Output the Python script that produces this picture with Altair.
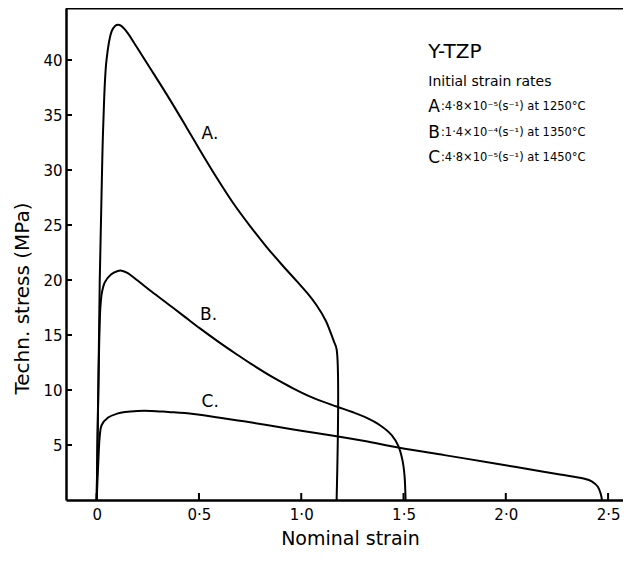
import altair as alt
import pandas as pd

# ---- data ----
strain_A = [0.0, 0.008, 0.015, 0.024, 0.032, 0.048, 0.073, 0.09, 0.105, 0.12, 0.15, 0.195, 0.26, 0.358,
            0.44, 0.505, 0.58, 0.667, 0.75, 0.831, 0.91, 0.978, 1.03, 1.075, 1.12, 1.14, 1.16, 1.173, 1.173]
stress_A = [0.0, 10.0, 20.0, 28.0, 34.0, 40.0, 42.6, 43.1, 43.2, 43.1, 42.5, 41.2, 39.3, 36.4,
            33.85, 31.8, 29.5, 27.0, 24.9, 23.0, 21.3, 19.9, 18.8, 17.7, 16.3, 15.4, 14.4, 13.7, 0.0]

strain_B = [0.0, 0.006, 0.012, 0.018, 0.026, 0.04, 0.07, 0.1, 0.122, 0.15, 0.2, 0.268, 0.35, 0.431,
            0.505, 0.594, 0.68, 0.757, 0.871, 0.95, 1.05, 1.173, 1.25, 1.31, 1.385, 1.442, 1.475,
            1.495, 1.505, 1.51]
stress_B = [0.0, 8.0, 14.0, 17.5, 18.9, 19.8, 20.5, 20.8, 20.85, 20.65, 19.95, 18.95, 17.8, 16.65,
            15.6, 14.4, 13.3, 12.35, 11.05, 10.25, 9.35, 8.5, 8.0, 7.55, 6.8, 5.9, 4.9,
            3.6, 2.2, 0.0]

strain_C = [0.0, 0.008, 0.015, 0.024, 0.056, 0.1, 0.138, 0.2, 0.268, 0.35, 0.431, 0.594, 0.72, 0.839,
            1.0, 1.173, 1.31, 1.48, 1.7, 1.955, 2.1, 2.265, 2.38, 2.42, 2.45, 2.465, 2.47]
stress_C = [0.0, 3.5, 5.8, 6.8, 7.5, 7.85, 8.0, 8.1, 8.1, 8.0, 7.9, 7.5, 7.15, 6.8,
            6.3, 5.8, 5.36, 4.75, 4.08, 3.3, 2.84, 2.31, 1.95, 1.7, 1.2, 0.5, 0.0]

x_ticks = [0, 0.5, 1.0, 1.5, 2.0, 2.5]
y_ticks = [5, 10, 15, 20, 25, 30, 35, 40]

curve_labels = ["A.", "B.", "C."]
curve_label_x = [0.513, 0.505, 0.513]
curve_label_y = [33.3, 16.8, 8.9]

legend_letters = ["A", "B", "C"]
legend_texts = [":4·8×10⁻⁵(s⁻¹) at 1250°C", ":1·4×10⁻⁴(s⁻¹) at 1350°C", ":4·8×10⁻⁵(s⁻¹) at 1450°C"]
legend_y = [35.7, 33.34, 31.06]
legend_x_letter = 1.621
legend_x_text = 1.683

title_text = "Y-TZP"
subtitle_text = "Initial strain rates"

X_DOMAIN = [-0.15, 2.573]
Y_DOMAIN = [0, 44.73]
FONT = "DejaVu Sans"

rows = []
for name, xs_, ys_ in (("A", strain_A, stress_A), ("B", strain_B, stress_B), ("C", strain_C, stress_C)):
    for i, (a, b) in enumerate(zip(xs_, ys_)):
        rows.append({"curve": name, "i": i, "strain": a, "stress": b})
curves = pd.DataFrame(rows)

xs = alt.Scale(domain=X_DOMAIN, nice=False, zero=False)
ys = alt.Scale(domain=Y_DOMAIN, nice=False, zero=False)

x_axis = alt.Axis(values=x_ticks, ticks=False, grid=False, domainWidth=2.5, domainColor="black",
                  labelFont=FONT, labelFontSize=15, labelColor="black", labelPadding=7,
                  labelExpr="datum.value == 0 ? '0' : replace(format(datum.value, '.1f'), '.', '·')",
                  title="Nominal strain", titleFont=FONT, titleFontSize=19, titleFontWeight="normal",
                  titleColor="black", titlePadding=7, titleX=284)
y_axis = alt.Axis(values=y_ticks, ticks=False, grid=False, domainWidth=2.5, domainColor="black",
                  labelFont=FONT, labelFontSize=15, labelColor="black", labelPadding=4,
                  title="Techn. stress (MPa)", titleFont=FONT, titleFontSize=20, titleFontWeight="normal",
                  titleColor="black", titlePadding=10, titleY=290)

lines = alt.Chart(curves).mark_line(color="black", strokeWidth=2, interpolate="catmull-rom").encode(
    x=alt.X("strain:Q", scale=xs, axis=x_axis),
    y=alt.Y("stress:Q", scale=ys, axis=y_axis),
    detail="curve:N",
    order="i:Q",
)

xt = alt.Chart(pd.DataFrame({"v": x_ticks})).mark_rule(color="black", strokeWidth=2).encode(
    x=alt.X("v:Q", scale=xs), y=alt.value(492), y2=alt.value(485))
yt = alt.Chart(pd.DataFrame({"v": y_ticks})).mark_rule(color="black", strokeWidth=2).encode(
    y=alt.Y("v:Q", scale=ys), x=alt.value(0), x2=alt.value(6))
top = alt.Chart(pd.DataFrame({"v": [Y_DOMAIN[1]]})).mark_rule(color="black", strokeWidth=3).encode(
    y=alt.Y("v:Q", scale=ys), x=alt.value(0), x2=alt.value(557))

lab = alt.Chart(pd.DataFrame({"t": curve_labels, "x": curve_label_x, "y": curve_label_y})).mark_text(
    font=FONT, fontSize=17, align="left", baseline="middle", color="black").encode(
    x=alt.X("x:Q", scale=xs), y=alt.Y("y:Q", scale=ys), text="t:N")

head = alt.Chart(pd.DataFrame({"t": [title_text, subtitle_text], "x": [legend_x_letter] * 2,
                               "y": [40.75, 38.0], "s": [20, 14]})).mark_text(
    font=FONT, align="left", baseline="middle", color="black").encode(
    x=alt.X("x:Q", scale=xs), y=alt.Y("y:Q", scale=ys), text="t:N",
    size=alt.Size("s:Q", scale=None, legend=None))

leg1 = alt.Chart(pd.DataFrame({"t": legend_letters, "y": legend_y, "x": [legend_x_letter] * 3})).mark_text(
    font=FONT, fontSize=17, align="left", baseline="middle", color="black").encode(
    x=alt.X("x:Q", scale=xs), y=alt.Y("y:Q", scale=ys), text="t:N")
leg2 = alt.Chart(pd.DataFrame({"t": legend_texts, "y": legend_y, "x": [legend_x_text] * 3})).mark_text(
    font=FONT, fontSize=11.5, align="left", baseline="middle", color="black").encode(
    x=alt.X("x:Q", scale=xs), y=alt.Y("y:Q", scale=ys), text="t:N")

chart = alt.layer(lines, xt, yt, top, lab, head, leg1, leg2).properties(
    width=557, height=492,
    autosize=alt.AutoSizeParams(type="none"),
    padding={"left": 58, "top": 0, "right": 0, "bottom": 54},
).configure_view(stroke=None).configure(background="white")

chart.save("out.html", embed_options={"renderer": "svg", "actions": False})
